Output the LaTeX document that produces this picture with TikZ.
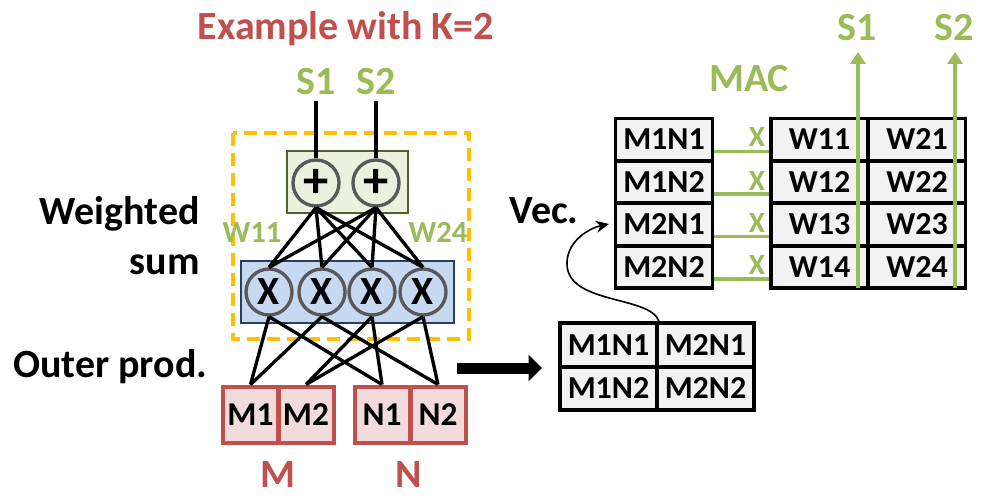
\documentclass[tikz,border=0pt]{standalone}
\usepackage{fontspec}
\setmainfont{Carlito}
\usetikzlibrary{arrows.meta,calc}
\definecolor{tred}{HTML}{C0504D}
\definecolor{tgreen}{HTML}{9BBB59}
\definecolor{torange}{HTML}{FFC000}
\definecolor{gfill}{HTML}{EBF1DE}
\definecolor{gdraw}{HTML}{4F6228}
\definecolor{bfill}{HTML}{C6D9F1}
\definecolor{bdraw}{HTML}{254061}
\definecolor{rfill}{HTML}{F2DCDB}
\definecolor{cfill}{HTML}{F2F2F2}
\definecolor{cgray}{HTML}{595959}
\def\u{0.75pt}
\tikzset{
  lbl/.style={inner sep=0pt, font=\bfseries\fontsize{30}{30}\selectfont},
  wlbl/.style={inner sep=0pt, text=tgreen, font=\bfseries\fontsize{23}{23}\selectfont},
  xlbl/.style={inner sep=0pt, text=tgreen, font=\bfseries\fontsize{22}{22}\selectfont},
  cell/.style={draw=black, line width=2.8pt, fill=cfill, inner sep=0pt,
    minimum width=97*\u, minimum height=42*\u, font=\bfseries\fontsize{24}{24}\selectfont},
  rcell/.style={draw=tred, line width=3pt, fill=rfill, inner sep=0pt,
    minimum width=55*\u, minimum height=56*\u, font=\bfseries\fontsize{25}{25}\selectfont},
  opcirc/.style={circle, draw=cgray, line width=2.5pt, inner sep=0pt, minimum size=46*\u},
  wire/.style={black, line width=2.5pt},
  gwire/.style={tgreen, line width=2.5pt},
}
\begin{document}
\begin{tikzpicture}[x=0.75pt,y=-0.75pt]
\useasboundingbox (0,0) rectangle (989,502);

% ---------- left part ----------
\node[lbl, text=tred, anchor=base] (title) at (346,40) {Example with K=2};

\draw[torange, line width=3pt, dash pattern=on 10pt off 5pt] (233,133) rectangle (469,339);

\node[draw=gdraw, fill=gfill, line width=1.8pt, minimum width=121*\u, minimum height=62*\u] (gbox) at (347.5,182) {};
\node[draw=bdraw, fill=bfill, line width=1.8pt, minimum width=213*\u, minimum height=62*\u] (bbox) at (347.5,292) {};

\node[opcirc, fill=gfill, font=\bfseries\fontsize{38}{38}\selectfont] (p1) at (316,183) {+};
\node[opcirc, fill=gfill, font=\bfseries\fontsize{38}{38}\selectfont] (p2) at (376,183) {+};

\foreach \i/\x in {1/269,2/322,3/372,4/423}{
  \node[opcirc, fill=bfill, font=\bfseries\fontsize{30}{30}\selectfont] (x\i) at (\x,292) {X};
}

\node[lbl, text=tgreen, anchor=base] (s1l) at (316,95) {S1};
\node[lbl, text=tgreen, anchor=base] (s2l) at (376,95) {S2};
\draw[wire, line width=2.8pt, shorten <=5*\u] (s1l.south) -- (p1.north);
\draw[wire, line width=2.8pt, shorten <=5*\u] (s2l.south) -- (p2.north);

\foreach \p in {p1,p2}{
  \foreach \i in {1,2,3,4}{
    \draw[wire] (\p.south) -- (x\i.north);
  }
}

\node[wlbl, anchor=base] (w11l) at (252,243) {W11};
\node[wlbl, anchor=base] (w24l) at (438,243) {W24};

\node[rcell] (m1) at (250.5,414.5) {M1};
\node[rcell] (m2) at (306,414.5) {M2};
\node[rcell] (n1) at (382,414.5) {N1};
\node[rcell] (n2) at (438,414.5) {N2};

\draw[wire] (x1.south) -- (m1.north);
\draw[wire] (x2.south) -- (m1.north);
\draw[wire] (x3.south) -- (m2.north);
\draw[wire] (x4.south) -- (m2.north);
\draw[wire] (x1.south) -- (n1.north);
\draw[wire] (x3.south) -- (n1.north);
\draw[wire] (x2.south) -- (n2.north);
\draw[wire] (x4.south) -- (n2.north);

\node[lbl, text=tred, anchor=base] (ml) at (278,487) {M};
\node[lbl, text=tred, anchor=base] (nl) at (409,487) {N};

\node[lbl, anchor=base east] (ws1) at (200,225) {Weighted};
\node[lbl, anchor=base east] (ws2) at (200,275) {sum};
\node[lbl, anchor=base west] (op) at (13,378) {Outer prod.};

% ---------- outer-product table ----------
\node[cell, minimum height=44*\u] (t11) at (608.5,345) {M1N1};
\node[cell, minimum height=44*\u] (t21) at (705.5,345) {M2N1};
\node[cell, minimum height=43*\u] (t12) at (608.5,388.5) {M1N2};
\node[cell, minimum height=43*\u] (t22) at (705.5,388.5) {M2N2};

\coordinate (ba) at (457,368);
\coordinate (bb) at (542,368);
\draw[black, line width=8.25pt, -{Triangle[length=10pt,width=19pt]}] (ba) -- (bb);

% ---------- MAC part ----------
\node[cell] (v1) at (664,139.5) {M1N1};
\node[cell] (v2) at (664,182) {M1N2};
\node[cell] (v3) at (664,224.5) {M2N1};
\node[cell] (v4) at (664,267) {M2N2};

\node[cell] (w11) at (819.5,139.5) {W11};
\node[cell] (w12) at (819.5,182) {W12};
\node[cell] (w13) at (819.5,224.5) {W13};
\node[cell] (w14) at (819.5,267) {W14};
\node[cell] (w21) at (917,139.5) {W21};
\node[cell] (w22) at (917,182) {W22};
\node[cell] (w23) at (917,224.5) {W23};
\node[cell] (w24) at (917,267) {W24};

\foreach \i in {1,2,3,4}{
  \draw[gwire] ($(v\i.east)+(0,12)$) -- ($(w1\i.west)+(0,12)$);
}
\node[xlbl, anchor=base] (xa) at (757,147) {X};
\node[xlbl, anchor=base] (xb) at (757,191) {X};
\node[xlbl, anchor=base] (xc) at (757,233) {X};
\node[xlbl, anchor=base] (xd) at (757,275) {X};

\node[lbl, text=tgreen, anchor=base] (mac) at (749,92) {MAC};
\node[lbl, text=tgreen, anchor=base] (s1r) at (857,41) {S1};
\node[lbl, text=tgreen, anchor=base] (s2r) at (954,41) {S2};

\coordinate (a1b) at (858,288);
\coordinate (a1t) at (858,52);
\coordinate (a2b) at (955,288);
\coordinate (a2t) at (955,52);
\draw[gwire, -{Triangle[length=12*\u,width=15*\u]}] (a1b) -- (a1t);
\draw[gwire, -{Triangle[length=12*\u,width=15*\u]}] (a2b) -- (a2t);

\node[lbl, anchor=base] (vec) at (544,224) {Vec.};
\coordinate (vmid) at (567,262);
\coordinate (vtip) at (609,224);
\draw[black, line width=1.2pt, -{Stealth[length=13*\u,width=12*\u]}]
  (t11.north east) .. controls (650,295) and (565,305) .. (vmid)
  .. controls (568,240) and (590,228) .. (vtip);
\end{tikzpicture}
\end{document}
